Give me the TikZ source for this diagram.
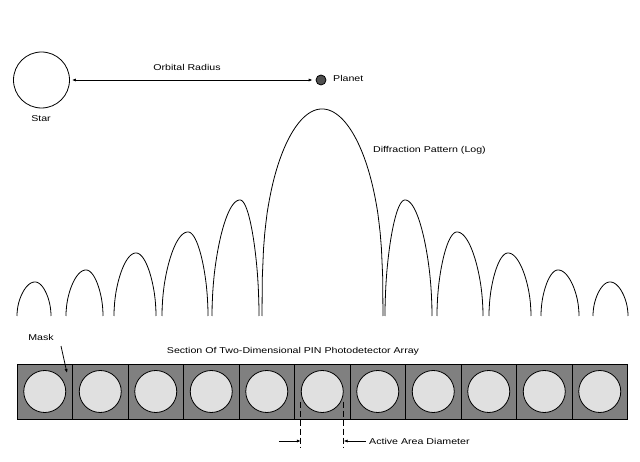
\documentclass[tikz,border=0pt]{standalone}
\usepackage{fontspec}
\setmainfont[FakeStretch=1.25]{Liberation Sans}
\usetikzlibrary{arrows.meta,calc}
\definecolor{cellgray}{HTML}{808080}
\definecolor{padgray}{HTML}{E0E0E0}
\definecolor{planetgray}{HTML}{505050}
\newcommand\difflobe[5]{%
  \draw[curve] (#1,316) -- plot[domain=-0.995:0,samples=50] ({#2+(#2-#1)*\x},{316-(316-#4)*(cos(90*\x))^#5})
    -- plot[domain=0:0.995,samples=50] ({#2+(#3-#2)*\x},{316-(316-#4)*(cos(90*\x))^#5}) -- (#3,316);}
\begin{document}
\begin{tikzpicture}[x=1pt,y=-1pt,
  lbl/.style={font=\fontsize{8.5pt}{10pt}\selectfont, inner sep=0pt},
  curve/.style={line width=0.8pt},
  arr/.style={line width=0.8pt,-{Latex[length=4pt,width=3.2pt]}},
  cellbox/.style={draw=black,line width=0.8pt,fill=cellgray,minimum width=55.5pt,minimum height=55pt,inner sep=0pt},
  padcirc/.style={circle,draw=black,line width=0.8pt,fill=padgray,minimum size=42pt,inner sep=0pt},
  dimline/.style={line width=0.8pt,dash pattern=on 6pt off 3pt}]
\useasboundingbox (0,0) rectangle (640,462);
\fill[white] (0,0) rectangle (640,462);
% star and planet
\node[circle,draw,line width=0.8pt,minimum size=56pt,inner sep=0pt] (star) at (41.5,80) {};
\node[lbl] (starlbl) at (41,119) {Star};
\node[circle,draw,line width=0.8pt,fill=planetgray,minimum size=10pt,inner sep=0pt] (planet) at (321,80) {};
\node[lbl,anchor=west] (planetlbl) at (333,78) {Planet};
\draw[line width=0.8pt,{Latex[length=4pt,width=3.2pt]}-{Latex[length=4pt,width=3.2pt]},shorten <=2pt,shorten >=3pt] (star) -- (planet);
\node[lbl] (orbit) at (187,67) {Orbital Radius};
% diffraction pattern
\difflobe{17}{35}{51}{282}{0.5}
\difflobe{66}{86}{103}{270}{0.5}
\difflobe{114}{136}{156}{253}{0.5}
\difflobe{162}{188}{208}{232}{0.5}
\difflobe{212}{240}{259}{200}{0.5}
\difflobe{262}{322}{383}{109}{0.35}
\difflobe{385}{405}{432}{200}{0.5}
\difflobe{437}{457}{483}{232}{0.5}
\difflobe{489}{508}{531}{253}{0.5}
\difflobe{541}{558}{579}{270}{0.5}
\difflobe{593}{610}{628}{282}{0.5}
\node[lbl,anchor=west] (difflbl) at (373,150) {Diffraction Pattern (Log)};
% array
\node[lbl] (section) at (293,351) {Section Of Two-Dimensional PIN Photodetector Array};
\foreach \i in {1,...,11} {
  \node[cellbox] (c\i) at ({17+55.5*(\i-0.5)},391.5) {};
  \node[padcirc] (d\i) at (c\i) {};
}
% mask
\node[lbl] (masklbl) at (41,337) {Mask};
\coordinate (maskstart) at (61,346);
\coordinate (maskend) at (67,373);
\draw[arr] (maskstart) -- (maskend);
% active area diameter
\coordinate (dlt) at ($(d6.west)+(0,10)$);
\coordinate (dlb) at ($(d6.west)+(0,56)$);
\coordinate (drt) at ($(d6.east)+(0,10)$);
\coordinate (drb) at ($(d6.east)+(0,56)$);
\draw[dimline] (dlt) -- (dlb);
\draw[dimline] (drt) -- (drb);
\coordinate (la) at ($(d6.west)+(-22,49.5)$);
\coordinate (lb) at ($(d6.west)+(0,49.5)$);
\coordinate (ra) at ($(d6.east)+(22,49.5)$);
\coordinate (rb) at ($(d6.east)+(0,49.5)$);
\draw[arr] (la) -- (lb);
\draw[arr] (ra) -- (rb);
\node[lbl,anchor=west] (activelbl) at (369,441) {Active Area Diameter};
\end{tikzpicture}
\end{document}
